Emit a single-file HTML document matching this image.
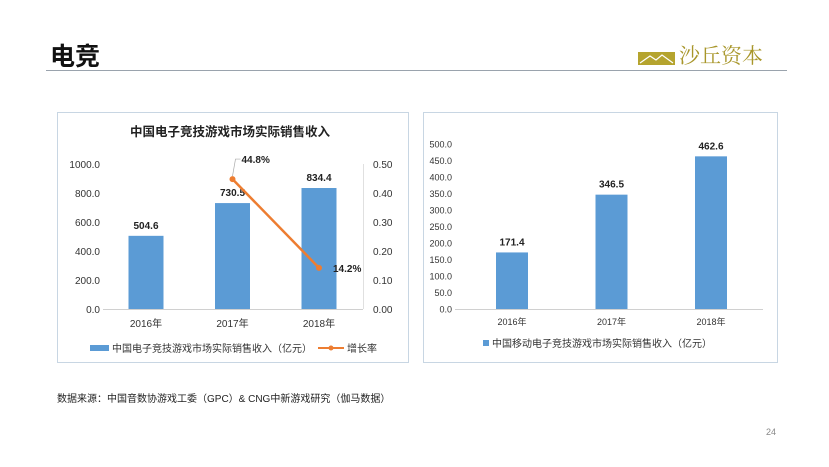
<!DOCTYPE html>
<html><head><meta charset="utf-8">
<style>
body{margin:0;width:829px;height:467px;background:#fff;overflow:hidden;font-family:"Liberation Sans","Noto Sans CJK SC",sans-serif;position:relative}
.abs{position:absolute}
svg text{font-family:"Liberation Sans","Noto Sans CJK SC",sans-serif}
</style></head><body>
<div class="abs" style="left:50px;top:37px;font-size:25px;font-weight:bold;color:#111">电竞</div>
<div class="abs" style="left:638px;top:40px;display:flex;align-items:center">
<svg width="37" height="20"><rect x="0" y="7" width="37" height="13" fill="#b5a42e"/><path d="M2 18 L12 11 L18 15 L24 10 L35 18" stroke="#fff" fill="none" stroke-width="1.2"/></svg>
<span style="font-family:'Noto Serif CJK SC',serif;font-size:21px;color:#a8962a;margin-left:4px">沙丘资本</span></div>
<div class="abs" style="left:46px;top:70px;width:741px;height:1px;background:#9aa3ad"></div>

<svg class="abs" style="left:0;top:0" width="829" height="467" id="c">
<rect x="57.5" y="112.5" width="351" height="250" fill="none" stroke="#c8d6e3"/>
<rect x="423.5" y="112.5" width="354" height="250" fill="none" stroke="#c8d6e3"/>
<text x="230" y="136" text-anchor="middle" font-size="12.5" font-weight="bold" fill="#222">中国电子竞技游戏市场实际销售收入</text>
<g id="L"></g><g id="R"></g>
<rect x="90" y="345" width="19" height="6" fill="#5b9bd5"/>
<text x="112" y="352" font-size="10" fill="#333">中国电子竞技游戏市场实际销售收入（亿元）</text>
<line x1="318" y1="348" x2="344" y2="348" stroke="#ed7d31" stroke-width="2"/>
<circle cx="331" cy="348" r="2.5" fill="#ed7d31"/>
<text x="347" y="352" font-size="10" fill="#333">增长率</text>
<rect x="483" y="340" width="6" height="6" fill="#5b9bd5"/>
<text x="492" y="347" font-size="10" fill="#333">中国移动电子竞技游戏市场实际销售收入（亿元）</text>
</svg>
<div class="abs" style="left:57px;top:390px;font-size:10px;color:#222">数据来源：中国音数协游戏工委（GPC）&amp; CNG中新游戏研究（伽马数据）</div>
<div class="abs" style="left:766px;top:427px;font-size:9px;color:#888">24</div>
<script>
const cats=["2016年","2017年","2018年"];
const esportsRev=[504.6,730.5,834.4];
const growth=[null,0.448,0.142];
const growthLabels=["","44.8%","14.2%"];
const leftTicks=[0,200,400,600,800,1000];
const rightTicks=[0,0.1,0.2,0.3,0.4,0.5];
const mobileRev=[171.4,346.5,462.6];
const mobileTicks=[0,50,100,150,200,250,300,350,400,450,500];
const NS="http://www.w3.org/2000/svg";
function mk(p,t,a,txt){const e=document.createElementNS(NS,t);for(const k in a)e.setAttribute(k,a[k]);if(txt!=null)e.textContent=txt;p.appendChild(e);return e;}
const L=document.getElementById('L');
const ly=v=>309-v/1000*145, ry=v=>309-v/0.5*145;
const lx=i=>146+i*86.5;
leftTicks.forEach(t=>{const e=mk(L,'text',{x:100,y:ly(t)+4,'text-anchor':'end','font-size':10,fill:'#333'},t.toFixed(1));

});
rightTicks.forEach(t=>{const e=mk(L,'text',{x:373,y:ry(t)+4,'font-size':10,fill:'#333'},t.toFixed(2));

});
mk(L,'line',{x1:103,y1:309.5,x2:363,y2:309.5,stroke:'#d0d0d0'});
mk(L,'line',{x1:363.5,y1:164,x2:363.5,y2:309,stroke:'#e0e0e0'});
esportsRev.forEach((v,i)=>{const b=mk(L,'rect',{x:lx(i)-17.5,y:ly(v),width:35,height:309-ly(v),fill:'#5b9bd5'});


const t=mk(L,'text',{x:lx(i),y:ly(v)-7,'text-anchor':'middle','font-size':10,'font-weight':'bold',fill:'#222'},v.toFixed(1));


const c=mk(L,'text',{x:lx(i),y:327,'text-anchor':'middle','font-size':10,fill:'#333'},cats[i]);

});
const pts=growth.map((g,i)=>g==null?null:[lx(i),ry(g)]).filter(p=>p);
const pl=mk(L,'polyline',{points:pts.map(p=>p.join(',')).join(' '),fill:'none',stroke:'#ed7d31','stroke-width':2.5});


growth.forEach((g,i)=>{if(g==null)return;const c=mk(L,'circle',{cx:lx(i),cy:ry(g),r:3,fill:'#ed7d31'});


const ox=i==1?[9,-20]:[14,0];
const t=mk(L,'text',{x:lx(i)+ox[0],y:ry(g)+ox[1]+4,'font-size':10,'font-weight':'bold',fill:'#222'},growthLabels[i]);

});
mk(L,'polyline',{points:`${lx(1)},${ry(growth[1])-3} ${lx(1)+3},${ry(growth[1])-20} ${lx(1)+8},${ry(growth[1])-20}`,fill:'none',stroke:'#aaa','stroke-width':0.7});
const R=document.getElementById('R');
const my=v=>309-v/500*165, mx=i=>512+i*99.5;
mobileTicks.forEach(t=>{const e=mk(R,'text',{x:452,y:my(t)+3.5,'text-anchor':'end','font-size':9,fill:'#333'},t.toFixed(1));

});
mk(R,'line',{x1:455,y1:309.5,x2:763,y2:309.5,stroke:'#d0d0d0'});
mobileRev.forEach((v,i)=>{const b=mk(R,'rect',{x:mx(i)-16,y:my(v),width:32,height:309-my(v),fill:'#5b9bd5'});


const t=mk(R,'text',{x:mx(i),y:my(v)-7,'text-anchor':'middle','font-size':10,'font-weight':'bold',fill:'#222'},v.toFixed(1));


const c=mk(R,'text',{x:mx(i),y:325,'text-anchor':'middle','font-size':9,fill:'#333'},cats[i]);

});
</script>
</body></html>
